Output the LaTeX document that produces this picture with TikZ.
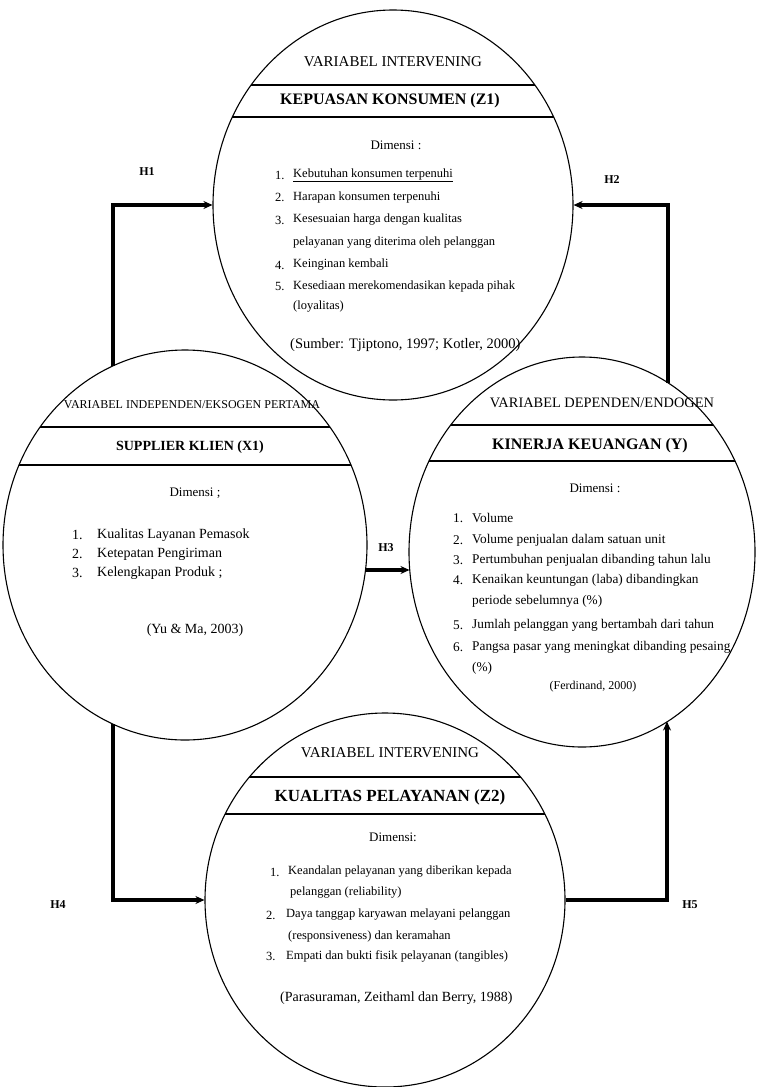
\documentclass[tikz,border=0pt]{standalone}
\usepackage{fontspec}
\setmainfont{Liberation Serif}
\usetikzlibrary{shapes.geometric,arrows.meta}
\tikzset{
  circ/.style={ellipse,draw,line width=1.1pt,inner sep=0pt},
  hdr/.style={font=\fontsize{15}{17}\selectfont,inner sep=0pt},
  ttl/.style={font=\bfseries\fontsize{16}{18}\selectfont,inner sep=0pt},
  itm/.style={font=\fontsize{12.5}{14}\selectfont,anchor=west,inner sep=0pt},
  sitm/.style={font=\fontsize{13.3}{15}\selectfont,anchor=west,inner sep=0pt},
  litm/.style={font=\fontsize{14}{16}\selectfont,anchor=west,inner sep=0pt},
  chord/.style={line width=1.6pt},
  conn/.style={line width=3.4pt,-{Stealth[length=9pt,width=8pt]}},
  hlab/.style={font=\bfseries\fontsize{12}{14}\selectfont,inner sep=0pt}
}
\begin{document}
\begin{tikzpicture}[x=1pt,y=-1pt]
\useasboundingbox (0,0) rectangle (757,1087);

% ellipses
\node[circ,minimum width=360pt,minimum height=390pt] (top) at (393,205) {};
\node[circ,minimum width=364pt,minimum height=390pt] (left) at (185,545) {};
\node[circ,minimum width=346pt,minimum height=390pt] (right) at (582,552) {};
\node[circ,minimum width=360pt,minimum height=374pt] (bot) at (385,900) {};

% chords
\begin{scope}
  \clip (393,205) ellipse [x radius=180pt, y radius=195pt];
  \draw[chord] (200,85) -- (600,85);
  \draw[chord] (200,117) -- (600,117);
\end{scope}
\begin{scope}
  \clip (185,545) ellipse [x radius=182pt, y radius=195pt];
  \draw[chord] (0,427) -- (400,427);
  \draw[chord] (0,465) -- (400,465);
\end{scope}
\begin{scope}
  \clip (582,552) ellipse [x radius=173pt, y radius=195pt];
  \draw[chord] (400,425) -- (760,425);
  \draw[chord] (400,461) -- (760,461);
\end{scope}
\begin{scope}
  \clip (385,900) ellipse [x radius=180pt, y radius=187pt];
  \draw[chord] (200,777) -- (580,777);
  \draw[chord] (200,814) -- (580,814);
\end{scope}

% top ellipse text
\node[hdr] (th) at (393,62) {VARIABEL INTERVENING};
\node[ttl] (tt) at (390,101) {KEPUASAN KONSUMEN (Z1)};
\node[hdr,font=\fontsize{13}{15}\selectfont] (td) at (396,145) {Dimensi :};
\node[itm] (tn1) at (275,175) {1.};
\node[itm] (ti1) at (293,175) {\underline{Kebutuhan konsumen terpenuhi}};
\node[itm] (tn2) at (275,197) {2.};
\node[itm] (ti2) at (293,197) {Harapan konsumen terpenuhi};
\node[itm] (tn3) at (275,220) {3.};
\node[itm] (ti3) at (293,220) {Kesesuaian harga dengan kualitas};
\node[itm] (ti3b) at (293,243) {pelayanan yang diterima oleh pelanggan};
\node[itm] (tn4) at (275,265) {4.};
\node[itm] (ti4) at (293,265) {Keinginan kembali};
\node[itm] (tn5) at (275,286) {5.};
\node[itm] (ti5) at (293,286) {Kesediaan merekomendasikan kepada pihak};
\node[itm] (ti5b) at (293,307) {(loyalitas)};
\node[itm,font=\fontsize{14.5}{16}\selectfont] (ts) at (290,345) {(Sumber: Tjiptono, 1997; Kotler, 2000)};

% left ellipse text
\node[hdr,font=\fontsize{12}{14}\selectfont] (lh) at (192,405) {VARIABEL INDEPENDEN/EKSOGEN PERTAMA};
\node[ttl,font=\bfseries\fontsize{14}{16}\selectfont] (lt) at (190,447) {SUPPLIER KLIEN (X1)};
\node[hdr,font=\fontsize{13}{15}\selectfont] (ld) at (195,493) {Dimensi ;};
\node[litm] (ln1) at (72,535) {1.};
\node[litm] (li1) at (97,535) {Kualitas Layanan Pemasok};
\node[litm] (ln2) at (72,554) {2.};
\node[litm] (li2) at (97,554) {Ketepatan Pengiriman};
\node[litm] (ln3) at (72,573) {3.};
\node[litm] (li3) at (97,573) {Kelengkapan Produk ;};
\node[hdr,font=\fontsize{14}{16}\selectfont] (ls) at (195,630) {(Yu \& Ma, 2003)};

% right ellipse text
\node[hdr,font=\fontsize{14.4}{16}\selectfont] (rh) at (602,403) {VARIABEL DEPENDEN/ENDOGEN};
\node[ttl] (rt) at (590,446) {KINERJA KEUANGAN (Y)};
\node[hdr,font=\fontsize{13}{15}\selectfont] (rd) at (595,488) {Dimensi :};
\node[sitm] (rn1) at (453,518) {1.};
\node[sitm] (ri1) at (472,518) {Volume};
\node[sitm] (rn2) at (453,540) {2.};
\node[sitm] (ri2) at (472,540) {Volume penjualan dalam satuan unit};
\node[sitm] (rn3) at (453,560) {3.};
\node[sitm] (ri3) at (472,560) {Pertumbuhan penjualan dibanding tahun lalu};
\node[sitm] (rn4) at (453,580) {4.};
\node[sitm] (ri4) at (472,580) {Kenaikan keuntungan (laba) dibandingkan};
\node[sitm] (ri4b) at (472,601) {periode sebelumnya (\%)};
\node[sitm] (rn5) at (453,625) {5.};
\node[sitm] (ri5) at (472,625) {Jumlah pelanggan yang bertambah dari tahun};
\node[sitm] (rn6) at (453,647) {6.};
\node[sitm] (ri6) at (472,647) {Pangsa pasar yang meningkat dibanding pesaing};
\node[sitm] (ri6b) at (472,668) {(\%)};
\node[hdr,font=\fontsize{12}{14}\selectfont] (rs) at (593,687) {(Ferdinand, 2000)};

% bottom ellipse text
\node[hdr] (bh) at (390,753) {VARIABEL INTERVENING};
\node[ttl,font=\bfseries\fontsize{17}{19}\selectfont] (bt) at (390,797) {KUALITAS PELAYANAN (Z2)};
\node[hdr,font=\fontsize{13}{15}\selectfont] (bd) at (393,837) {Dimensi:};
\node[itm] (bn1) at (270,872) {1.};
\node[itm] (bi1) at (288,872) {Keandalan pelayanan yang diberikan kepada};
\node[itm] (bi1b) at (290,893) {pelanggan (reliability)};
\node[itm] (bn2) at (266,915) {2.};
\node[itm] (bi2) at (286,915) {Daya tanggap karyawan melayani pelanggan};
\node[itm] (bi2b) at (288,936) {(responsiveness) dan keramahan};
\node[itm] (bn3) at (266,956) {3.};
\node[itm] (bi3) at (286,956) {Empati dan bukti fisik pelayanan (tangibles)};
\node[itm,font=\fontsize{14}{16}\selectfont] (bs) at (280,998) {(Parasuraman, Zeithaml dan Berry, 1988)};

% connector end points on ellipse borders
\coordinate (h1a) at (113,366);
\coordinate (h2a) at (668,383);
\coordinate (h3a) at (365.5,570);
\coordinate (h3b) at (409.5,570);
\coordinate (h4a) at (113,724);
\coordinate (h5b) at (667,721.5);

\draw[conn] (h1a) |- (top.west);
\draw[conn] (h2a) |- (top.east);
\draw[conn] (h3a) -- (h3b);
\draw[conn] (h4a) |- (bot.west);
\draw[conn] (bot.east) -| (h5b);

% labels
\node[hlab] (l1) at (147,172) {H1};
\node[hlab] (l2) at (612,180) {H2};
\node[hlab] (l3) at (386,548) {H3};
\node[hlab] (l4) at (58,905) {H4};
\node[hlab] (l5) at (690,905) {H5};
\end{tikzpicture}
\end{document}
